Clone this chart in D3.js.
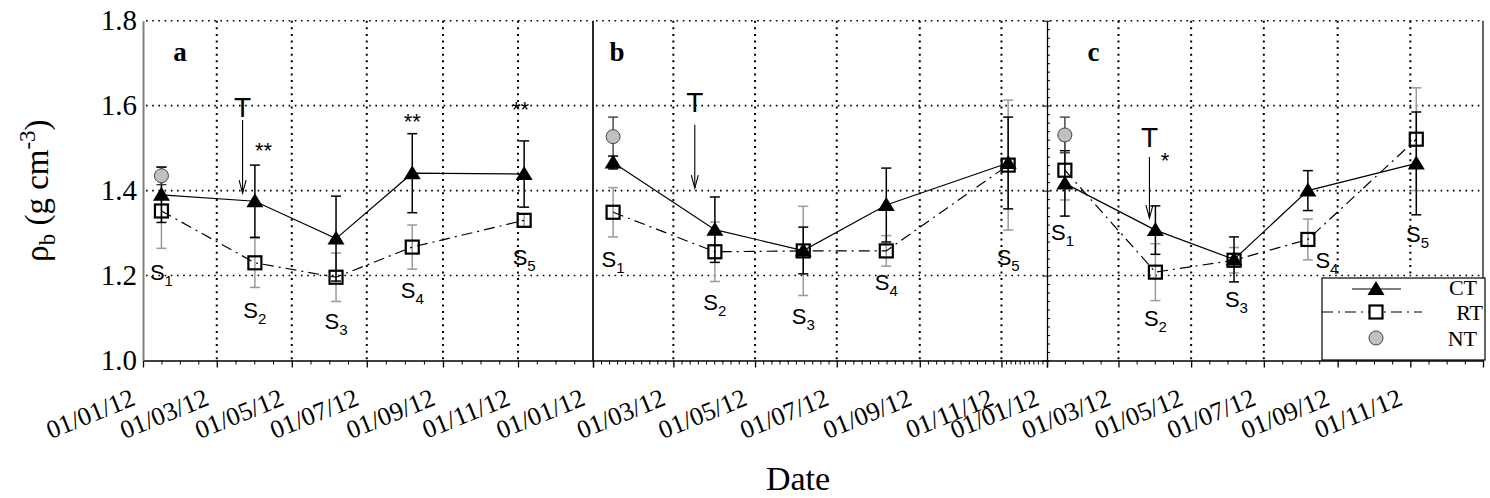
<!DOCTYPE html>
<html><head><meta charset="utf-8">
<script src="https://cdn.jsdelivr.net/npm/d3@7"></script>
<style>body{margin:0;background:#fff} svg{display:block}</style>
</head><body>
<svg id="chart" width="1490" height="498"></svg>
<script>
// ---------------- data ----------------
const sampleDates = ["2012-01-16","2012-04-01","2012-06-06","2012-08-07","2012-11-06"];
const panelNames = ["a","b","c"];

const ctA = [1.390, 1.375, 1.287, 1.441, 1.439];
const ctErrA = [0.065, 0.085, 0.100, 0.093, 0.078];
const rtA = [1.352, 1.230, 1.196, 1.267, 1.330];
const rtErrA = [0.088, 0.058, 0.057, 0.052, 0.015];
const ntA = [1.435]; const ntErrA = [0.021];

const ctB = [1.466, 1.308, 1.259, 1.366, 1.465];
const ctErrB = [0.015, 0.077, 0.055, 0.087, 0.108];
const rtB = [1.349, 1.256, 1.258, 1.258, 1.460];
const rtErrB = [0.058, 0.070, 0.105, 0.036, 0.153];
const ntB = [1.527]; const ntErrB = [0.046];

const ctC = [1.417, 1.307, 1.238, 1.400, 1.464];
const ctErrC = [0.077, 0.057, 0.053, 0.047, 0.121];
const rtC = [1.448, 1.208, 1.236, 1.285, 1.521];
const rtErrC = [0.070, 0.067, 0.030, 0.048, 0.121];
const ntC = [1.531]; const ntErrC = [0.042];

const yTicks = [1.0, 1.2, 1.4, 1.6, 1.8];
const yTickLabels = ["1.0", "1.2", "1.4", "1.6", "1.8"];
const yGrid = [1.2, 1.4, 1.6, 1.8];

const domainA = ["2012-01-01", "2013-01-01"];
const domainB = ["2012-01-01", "2012-12-05"];
const domainC = ["2012-01-01", "2013-01-01"];
const tickDatesA = ["2012-01-01","2012-03-01","2012-05-01","2012-07-01","2012-09-01","2012-11-01","2013-01-01"];
const tickDatesB = ["2012-01-01","2012-03-01","2012-05-01","2012-07-01","2012-09-01","2012-11-01","2012-12-05"];
const tickDatesC = ["2012-01-01","2012-03-01","2012-05-01","2012-07-01","2012-09-01","2012-11-01","2013-01-01"];
const tickLabelsA = ["01/01/12","01/03/12","01/05/12","01/07/12","01/09/12","01/11/12","01/01/12"];
const tickLabelsB = ["","01/03/12","01/05/12","01/07/12","01/09/12","01/11/12","01/01/12"];
const tickLabelsC = ["","01/03/12","01/05/12","01/07/12","01/09/12","01/11/12",""];
const minorDivisions = [4, 10, 4];

// annotations (data coordinates)
const labelDates = ["2012-01-31","2012-01-19","2012-02-09"];
const labelVal = 1.706;
const tillDates = ["2012-03-22","2012-03-17","2012-03-27"];
const tillTextVal = [1.573, 1.585, 1.503];
const tillArrowTop = [1.566, 1.555, 1.479];
const tillArrowTip = [1.394, 1.406, 1.335];
const sLabelDatesA = sampleDates;
const sLabelDatesB = sampleDates;
const sLabelDatesC = ["2012-01-14","2012-04-01","2012-06-08","2012-08-23","2012-11-07"];
const sLabelValA = [1.189, 1.099, 1.075, 1.146, 1.224];
const sLabelValB = [1.219, 1.118, 1.087, 1.165, 1.224];
const sLabelValC = [1.283, 1.082, 1.125, 1.217, 1.278];
const sLabelNums = ["1","2","3","4","5"];
const starDatesA = ["2012-04-08","2012-08-07","2012-11-03"];
const starValA = [1.477, 1.545, 1.573];
const starTextA = ["**","**","**"];
const starDatesB = [];
const starValB = [];
const starTextB = [];
const starDatesC = ["2012-04-09"];
const starValC = [1.453];
const starTextC = ["*"];

const legendNames = ["CT","RT","NT"];

// ---------------- layout ----------------
const serif = "'Liberation Serif','Times New Roman',serif";
const sans = "'Liberation Sans',Arial,sans-serif";
const parse = d3.utcParse("%Y-%m-%d");
const svg = d3.select("#chart");
const y = d3.scaleLinear().domain([1.0, 1.8]).range([360.5, 20.7]);

const panels = [
  {name:"a", range:[143,593], domain:domainA, ticks:tickDatesA, labels:tickLabelsA,
   ct:ctA, ctErr:ctErrA, rt:rtA, rtErr:rtErrA, nt:ntA, ntErr:ntErrA,
   sDates:sLabelDatesA, sVal:sLabelValA, starD:starDatesA, starV:starValA, starT:starTextA},
  {name:"b", range:[593,1047], domain:domainB, ticks:tickDatesB, labels:tickLabelsB,
   ct:ctB, ctErr:ctErrB, rt:rtB, rtErr:rtErrB, nt:ntB, ntErr:ntErrB,
   sDates:sLabelDatesB, sVal:sLabelValB, starD:starDatesB, starV:starValB, starT:starTextB},
  {name:"c", range:[1047,1483], domain:domainC, ticks:tickDatesC, labels:tickLabelsC,
   ct:ctC, ctErr:ctErrC, rt:rtC, rtErr:rtErrC, nt:ntC, ntErr:ntErrC,
   sDates:sLabelDatesC, sVal:sLabelValC, starD:starDatesC, starV:starValC, starT:starTextC}
];

const triPath = "M0,-8L8.5,6L-8.5,6Z";

panels.forEach((p, pi) => {
  const x = d3.scaleUtc().domain(p.domain.map(parse)).range(p.range);
  const g = svg.append("g");
  const tdates = p.ticks.map(parse);
  const [x0, x1] = x.range();

  // grid
  g.selectAll(".hg").data(yGrid).enter().append("line")
    .attr("x1", x0 + 3).attr("x2", x1 - 3).attr("y1", d => y(d)).attr("y2", d => y(d))
    .attr("stroke", "#000").attr("stroke-width", 1.6).attr("stroke-dasharray", "1.6,4.6");
  g.selectAll(".vg").data(tdates.slice(1, -1)).enter().append("line")
    .attr("x1", d => x(d)).attr("x2", d => x(d)).attr("y1", y(1.8)).attr("y2", y(1.0))
    .attr("stroke", "#000").attr("stroke-width", 2).attr("stroke-dasharray", "2,4.6");

  // minor ticks
  const minor = [];
  for (let i = 0; i < tdates.length - 1; i++) {
    const a = +tdates[i], b = +tdates[i + 1], n = minorDivisions[pi];
    for (let k = 1; k < n; k++) minor.push(new Date(a + (b - a) * k / n));
  }
  const minorAxis = g.append("g").attr("transform", `translate(0,${y(1.0)})`)
    .call(d3.axisBottom(x).tickValues(minor).tickSize(4).tickFormat(""));
  minorAxis.select(".domain").remove();
  minorAxis.selectAll("line").attr("stroke", "#000").attr("stroke-width", 1);

  // major axis
  const ax = g.append("g").attr("transform", `translate(0,${y(1.0)})`)
    .attr("font-family", serif)
    .call(d3.axisBottom(x).tickValues(tdates).tickSizeInner(7).tickSizeOuter(0)
      .tickFormat((d, i) => p.labels[i]));
  ax.attr("font-family", serif);
  ax.select(".domain").attr("stroke", "#000").attr("stroke-width", 1.6);
  ax.selectAll(".tick line").attr("stroke", "#000").attr("stroke-width", 1.3);
  ax.selectAll(".tick text")
    .attr("x", 0).attr("y", 0).attr("dy", 0)
    .attr("text-anchor", "end")
    .attr("transform", "translate(-7,44) rotate(-22)")
    .style("font-family", serif).style("font-size", "26px").attr("fill", "#000");

  // right border
  if (pi === 0 || pi === 2) {
    g.append("line").attr("x1", x1).attr("x2", x1).attr("y1", y(1.8)).attr("y2", y(1.0))
      .attr("stroke", "#000").attr("stroke-width", 1.2);
  }

  const pts = p.ct.map((v, i) => ({date: parse(sampleDates[i]), v, e: p.ctErr[i]}));
  const rpts = p.rt.map((v, i) => ({date: parse(sampleDates[i]), v, e: p.rtErr[i]}));
  const npts = p.nt.map((v, i) => ({date: parse(sampleDates[i]), v, e: p.ntErr[i]}));

  function errBars(data, color, width) {
    const eg = g.append("g").attr("stroke", color).attr("stroke-width", width).attr("fill", "none");
    data.forEach(d => {
      const cx = x(d.date);
      eg.append("line").attr("x1", cx).attr("x2", cx).attr("y1", y(d.v - d.e)).attr("y2", y(d.v + d.e));
      [d.v - d.e, d.v + d.e].forEach(vv => {
        eg.append("line").attr("x1", cx - 5).attr("x2", cx + 5).attr("y1", y(vv)).attr("y2", y(vv));
      });
    });
  }
  errBars(rpts, "#9a9a9a", 1.5);
  errBars(pts, "#000", 1.5);
  errBars(npts, "#333", 1.3);

  const line = d3.line().x(d => x(d.date)).y(d => y(d.v));
  g.append("path").datum(pts).attr("d", line).attr("fill", "none")
    .attr("stroke", "#000").attr("stroke-width", 1.2);
  g.append("path").datum(rpts).attr("d", line).attr("fill", "none")
    .attr("stroke", "#000").attr("stroke-width", 1.2).attr("stroke-dasharray", "11,5,2,5");

  g.selectAll(".tri").data(pts).enter().append("path")
    .attr("d", triPath).attr("transform", d => `translate(${x(d.date)},${y(d.v)})`)
    .attr("fill", "#000");
  g.selectAll(".sq").data(rpts).enter().append("rect")
    .attr("x", d => x(d.date) - 6.5).attr("y", d => y(d.v) - 6.5).attr("width", 13).attr("height", 13)
    .attr("fill", "none").attr("stroke", "#000").attr("stroke-width", 2.2);
  g.selectAll(".ci").data(npts).enter().append("circle")
    .attr("cx", d => x(d.date)).attr("cy", d => y(d.v)).attr("r", 7)
    .attr("fill", "#c0c0c0").attr("stroke", "#444").attr("stroke-width", 1);

  // panel label
  g.append("text").attr("x", x(parse(labelDates[pi]))).attr("y", y(labelVal))
    .attr("text-anchor", "middle").style("font-family", serif).style("font-weight", "bold")
    .style("font-size", "27px").text(p.name);

  // tillage arrow
  const tx = x(parse(tillDates[pi]));
  g.append("text").attr("x", tx).attr("y", y(tillTextVal[pi])).attr("text-anchor", "middle")
    .style("font-family", sans).style("font-size", "28px").text("T");
  g.append("line").attr("x1", tx).attr("x2", tx).attr("y1", y(tillArrowTop[pi])).attr("y2", y(tillArrowTip[pi]))
    .attr("stroke", "#000").attr("stroke-width", 1.1);
  g.append("path").attr("d", "M-3.5,-13L0,0L3.5,-13")
    .attr("transform", `translate(${tx},${y(tillArrowTip[pi])})`)
    .attr("fill", "none").attr("stroke", "#000").attr("stroke-width", 1.1);

  // S labels
  p.sDates.forEach((d, i) => {
    const t = g.append("text").attr("x", x(parse(d))).attr("y", y(p.sVal[i]))
      .attr("text-anchor", "middle").style("font-family", sans).style("font-size", "22px").text("S");
    t.append("tspan").attr("dy", 6).style("font-size", "15px").text(sLabelNums[i]);
  });

  // significance stars
  p.starD.forEach((d, i) => {
    g.append("text").attr("x", x(parse(d))).attr("y", y(p.starV[i])).attr("text-anchor", "middle")
      .style("font-family", sans).style("font-size", "22px").text(p.starT[i]);
  });
});

// y axis (panel a)
const yAx = svg.append("g").attr("transform", "translate(143,0)")
  .call(d3.axisLeft(y).tickValues(yTicks).tickSize(0).tickPadding(6)
    .tickFormat((d, i) => yTickLabels[i]));
yAx.select(".domain").attr("stroke", "#808080").attr("stroke-width", 2);
yAx.selectAll("text").style("font-family", serif).style("font-size", "29px").attr("fill", "#000");

// panel c left axis with inner minor ticks
const minorY = d3.range(0, 41).map(i => 1.0 + i * 0.02);
const cAx = svg.append("g").attr("transform", "translate(1047,0)")
  .call(d3.axisRight(y).tickValues(minorY).tickSize(3).tickSizeOuter(0).tickFormat(""));
cAx.select(".domain").attr("stroke", "#000").attr("stroke-width", 1.3);
cAx.selectAll(".tick line").attr("stroke", "#000").attr("stroke-width", 1);
const cAx2 = svg.append("g").attr("transform", "translate(1047,0)")
  .call(d3.axisLeft(y).tickValues(yTicks).tickSize(4).tickFormat(""));
cAx2.select(".domain").remove();
cAx2.selectAll(".tick line").attr("stroke", "#000");
// panel b left border
svg.append("line").attr("x1", 593).attr("x2", 593).attr("y1", y(1.8)).attr("y2", y(1.0))
  .attr("stroke", "#000").attr("stroke-width", 1.2);

// axis titles
svg.append("text").attr("transform", `translate(48,${(y(1.0) + y(1.8)) / 2}) rotate(-90)`)
  .attr("text-anchor", "middle").style("font-family", serif).style("font-size", "33px")
  .call(t => {
    t.append("tspan").text("ρ");
    t.append("tspan").attr("dy", 7).style("font-size", "23px").text("b");
    t.append("tspan").attr("dy", -7).text(" (g cm");
    t.append("tspan").attr("dy", -13).style("font-size", "23px").text("-3");
    t.append("tspan").attr("dy", 13).text(")");
  });
svg.append("text").attr("x", 798).attr("y", 490).attr("text-anchor", "middle")
  .style("font-family", serif).style("font-size", "34px").text("Date");

// legend
const lg = svg.append("g").attr("transform", "translate(1322,278)");
lg.append("rect").attr("width", 163).attr("height", 82).attr("fill", "#fff")
  .attr("stroke", "#000").attr("stroke-width", 1.2);
const rowY = [11, 34, 60];
legendNames.forEach((n, i) => {
  const r = lg.append("g").attr("transform", `translate(0,${rowY[i]})`);
  if (n === "CT") {
    r.append("line").attr("x1", 30).attr("x2", 79).attr("stroke", "#000").attr("stroke-width", 1.2);
    r.append("path").attr("d", triPath).attr("transform", "translate(54,0)").attr("fill", "#000");
  } else if (n === "RT") {
    r.append("line").attr("x1", 0).attr("x2", 100).attr("stroke", "#000").attr("stroke-width", 1.2)
      .attr("stroke-dasharray", "11,5,2,5");
    r.append("rect").attr("x", 47.5).attr("y", -6.5).attr("width", 13).attr("height", 13)
      .attr("fill", "#fff").attr("stroke", "#000").attr("stroke-width", 2.2);
  } else {
    r.append("circle").attr("cx", 54).attr("r", 7).attr("fill", "#c0c0c0")
      .attr("stroke", "#444").attr("stroke-width", 1);
  }
  r.append("text").attr("x", n === "RT" ? 161 : 155).attr("y", n === "CT" ? 6 : 8).attr("text-anchor", "end")
    .style("font-family", serif).style("font-size", "22px").text(n);
});
</script>
</body></html>
